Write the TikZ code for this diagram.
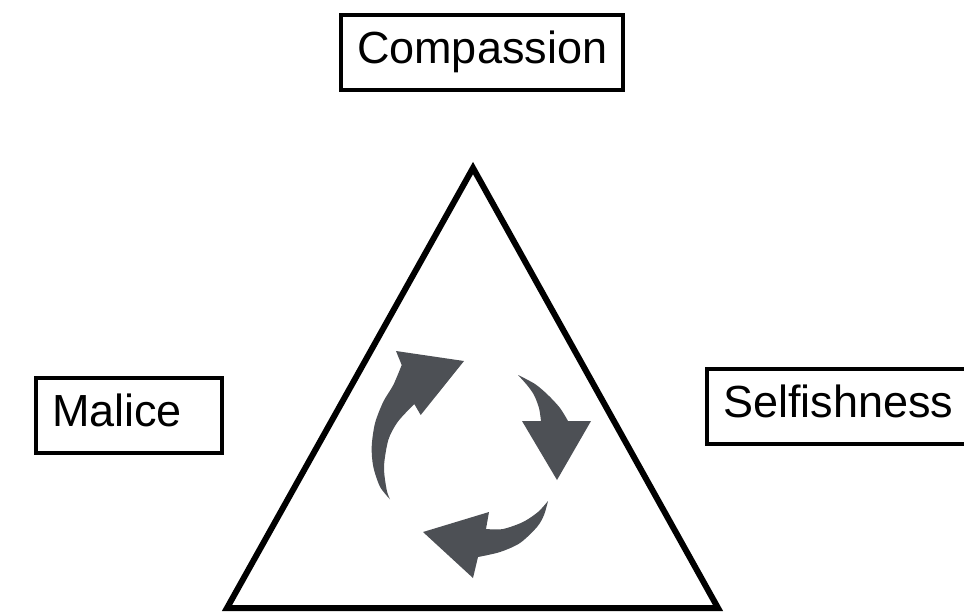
\documentclass[tikz,border=0pt]{standalone}
\usepackage{fontspec}
\setmainfont{Liberation Sans}
\usepackage{tikz}
\usetikzlibrary{positioning}
\usepackage{xcolor}
\definecolor{arrowgray}{HTML}{4D5055}
\newcommand{\boxlabel}[2]{\makebox[#1][l]{#2}}

\begin{document}
\begin{tikzpicture}[x=0.75pt,y=-0.75pt]
	\clip (0,0) rectangle (964,612);
	\begin{scope}[every node/.style={draw,line width=3pt,inner xsep=12pt,minimum height=56.25pt,text height=24.3pt,text depth=7.1pt,font=\fontsize{33.75}{40}\selectfont}]
		\node (compassion) at (482,52.5) {\boxlabel{187.5pt}{Compassion}};
		\node (malice) at (129,415) {\boxlabel{115.5pt}{Malice}};
		\node (selfishness) at (841,406) {\boxlabel{177pt}{Selfishness}};
	\end{scope}
	\coordinate (top) at (473,168);
	\coordinate (left) at (227,608);
	\coordinate (right) at (718,608);
	\draw[line width=4.5pt] (top) -- (right) -- (left) -- cycle;
	\begin{scope}[every path/.style={fill=arrowgray}]
		\fill plot[smooth] coordinates {(390,499.3) (380,486.7) (373.3,466.7) (371.7,446.7) (375,423.3) (383.3,401.7) (393.3,385) (401.7,365)}
			-- (396,351) -- (464,361) -- (420.7,415) -- (414.3,404)
			-- plot[smooth] coordinates {(414.3,404) (406.7,411.7) (396.7,423.3) (388.3,440) (384,466.7) (386.7,490) (390,499.3)} -- cycle;
		\fill plot[smooth] coordinates {(518,375) (535,384) (548,395) (560,408) (568,421)}
			-- (591,421) -- (557,480) -- (522,421) -- (541,421)
			-- plot[smooth] coordinates {(541,421) (539,408) (534,395) (527,385) (518,375)} -- cycle;
		\fill plot[smooth] coordinates {(548,501) (544,515) (537,527) (520,543) (500,552) (478,557)}
			-- (473,578) -- (423,532) -- (489,512) -- (486,529)
			-- plot[smooth] coordinates {(486,529) (503,529) (523,522) (538,512) (548,501)} -- cycle;
	\end{scope}
\end{tikzpicture}
\end{document}
